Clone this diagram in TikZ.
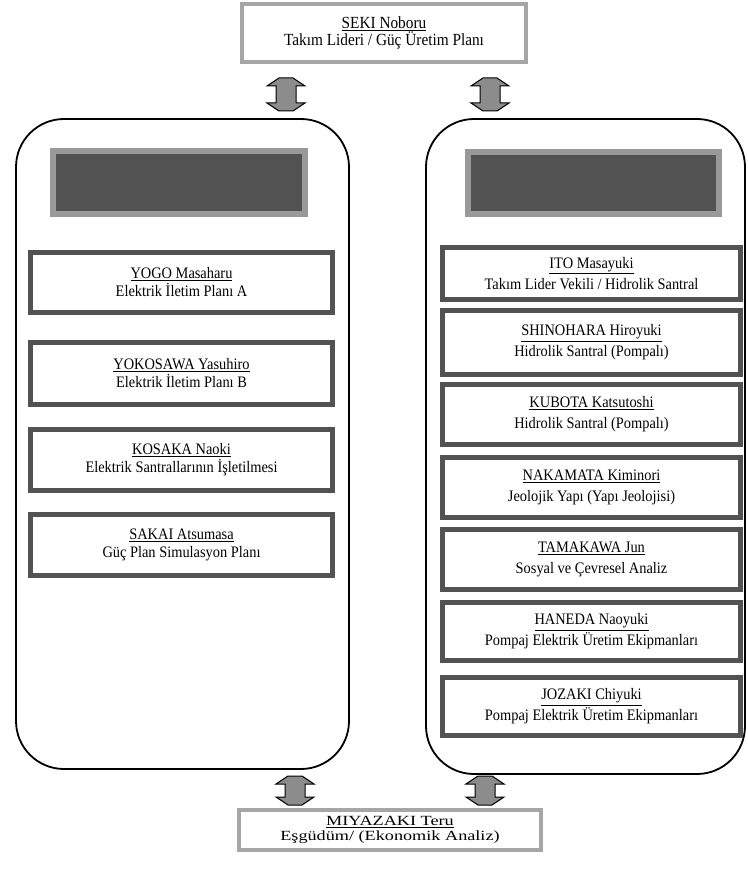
\documentclass[tikz,border=0pt]{standalone}
\usepackage{fontspec}
\setmainfont[FakeStretch=0.9]{Liberation Serif}
\newfontfamily\widefont[FakeStretch=1.3]{Liberation Serif}
\usetikzlibrary{calc}
\newcommand\blockarrow[3]{%
  \path[arrowbox] let \p1=#2, \p2=#3 in
    (#1pt-7pt,\y1) -- (#1pt+7pt,\y1) -- (#1pt+19pt,\y1-8pt) -- (#1pt+10pt,\y1-8pt)
    -- (#1pt+10pt,\y2+8pt) -- (#1pt+19pt,\y2+8pt) -- (#1pt+7pt,\y2) -- (#1pt-7pt,\y2)
    -- (#1pt-19pt,\y2+8pt) -- (#1pt-10pt,\y2+8pt) -- (#1pt-10pt,\y1-8pt) -- (#1pt-19pt,\y1-8pt) -- cycle;}
\begin{document}
\begin{tikzpicture}[x=1pt,y=-1pt,
  every node/.style={inner sep=0pt, outer sep=0pt, align=center},
  leadbox/.style={draw=black!35, line width=4pt, fill=white},
  bigbox/.style={draw=black, line width=1.8pt, rounded corners=48pt},
  headbox/.style={draw=black!40, line width=6pt, fill=black!68},
  lperson/.style={draw=black!68, line width=5pt, fill=white, font=\fontsize{16}{18}\selectfont, minimum width=302pt},
  rperson/.style={draw=black!68, line width=5pt, fill=white, font=\fontsize{16}{21}\selectfont, minimum width=298pt},
  arrowbox/.style={draw=black, line width=1pt, fill=black!45, line join=miter}
]
\useasboundingbox (0,0) rectangle (747,885);

\node[leadbox, minimum width=284pt, minimum height=58pt, font=\fontsize{17}{17}\selectfont] (seki) at (384,33)
  {\underline{SEKI Noboru}\\Takım Lideri / Güç Üretim Planı};

\node[bigbox, minimum width=333pt, minimum height=650pt] (lgroup) at (182.5,444) {};
\node[bigbox, minimum width=319pt, minimum height=655pt] (rgroup) at (585.5,446.5) {};

\node[headbox, minimum width=252pt, minimum height=63pt] (lhead) at (179,182.5) {};
\node[headbox, minimum width=251pt, minimum height=62pt] (rhead) at (593.5,183) {};

\node[lperson, minimum height=60pt] (yogo) at (181.5,282.5) {\underline{YOGO Masaharu}\\Elektrik İletim Planı A};
\node[lperson, minimum height=62pt] (yokosawa) at (181.5,373.5) {\underline{YOKOSAWA Yasuhiro}\\Elektrik İletim Planı B};
\node[lperson, minimum height=61pt] (kosaka) at (181.5,460) {\underline{KOSAKA Naoki}\\Elektrik Santrallarının İşletilmesi};
\node[lperson, minimum height=61pt] (sakai) at (181.5,545) {\underline{SAKAI Atsumasa}\\Güç Plan Simulasyon Planı};

\node[rperson, minimum height=52pt] (ito) at (591.5,273.5) {\underline{ITO Masayuki}\\Takım Lider Vekili / Hidrolik Santral};
\node[rperson, minimum height=64pt] (shinohara) at (591.5,342.5) {\underline{SHINOHARA Hiroyuki}\\Hidrolik Santral (Pompalı)};
\node[rperson, minimum height=60pt] (kubota) at (591.5,414.5) {\underline{KUBOTA Katsutoshi}\\Hidrolik Santral (Pompalı)};
\node[rperson, minimum height=60pt] (nakamata) at (591.5,487.5) {\underline{NAKAMATA Kiminori}\\Jeolojik Yapı (Yapı Jeolojisi)};
\node[rperson, minimum height=60pt] (tamakawa) at (591.5,559.5) {\underline{TAMAKAWA Jun}\\Sosyal ve Çevresel Analiz};
\node[rperson, minimum height=58pt] (haneda) at (591.5,631.5) {\underline{HANEDA Naoyuki}\\Pompaj Elektrik Üretim Ekipmanları};
\node[rperson, minimum height=58pt] (jozaki) at (591.5,706.5) {\underline{JOZAKI Chiyuki}\\Pompaj Elektrik Üretim Ekipmanları};

\node[leadbox, minimum width=302pt, minimum height=40pt, font=\widefont\fontsize{14}{14.5}\selectfont] (miya) at (390,830)
  {\underline{MIYAZAKI Teru}\\Eşgüdüm/ (Ekonomik Analiz)};

\blockarrow{286}{([yshift=-16pt]seki.south)}{([yshift=8pt]lgroup.north)}
\blockarrow{490}{([yshift=-16pt]seki.south)}{([yshift=8pt]rgroup.north)}
\blockarrow{295}{([yshift=-7pt]lgroup.south)}{([yshift=5pt]miya.north)}
\blockarrow{485}{([yshift=-2pt]rgroup.south)}{([yshift=5pt]miya.north)}
\end{tikzpicture}
\end{document}
